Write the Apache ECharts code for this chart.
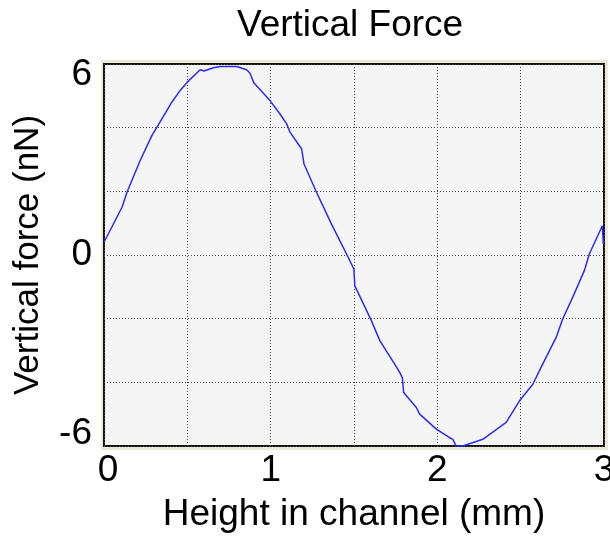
<!DOCTYPE html>
<html>
<head>
<meta charset="utf-8">
<script src="https://cdn.jsdelivr.net/npm/echarts@6/dist/echarts.min.js"></script>
<style>
  html, body { margin: 0; padding: 0; background: #fff; }
</style>
</head>
<body>
<div id="myChart" style="width:610px;height:541px;"></div>
<script>
// height in channel (mm)
var heightMm = [0.0, 0.108, 0.138, 0.217, 0.287, 0.317, 0.407, 0.457, 0.50, 0.577,
  0.60, 0.656, 0.696, 0.796, 0.856, 0.876, 0.886, 0.90, 0.996, 1.056,
  1.096, 1.116, 1.186, 1.20, 1.275, 1.365, 1.465, 1.499, 1.505, 1.605,
  1.655, 1.744, 1.774, 1.79, 1.798, 1.874, 1.894, 1.994, 2.004, 2.074,
  2.093, 2.113, 2.153, 2.273, 2.413, 2.493, 2.573, 2.632, 2.713, 2.752,
  2.812, 2.882, 2.912, 2.99, 2.996];
// vertical force (nN)
var forceNN = [0.40, 1.50, 1.97, 2.97, 3.75, 4.01, 4.80, 5.17, 5.43, 5.82,
  5.78, 5.88, 5.92, 5.92, 5.82, 5.71, 5.65, 5.40, 4.85, 4.43,
  4.12, 3.86, 3.33, 2.86, 1.97, 0.97, -0.07, -0.44, -0.97, -2.07,
  -2.69, -3.43, -3.69, -3.85, -4.32, -4.79, -5.0, -5.47, -5.50, -5.74,
  -5.79, -6.0, -6.0, -5.79, -5.26, -4.58, -4.06, -3.43, -2.59, -2.01,
  -1.33, -0.49, 0.03, 0.92, 0.35];
var yLabels = [-6, 0, 6];
var xLabels = [0, 1, 2, 3];

var pts = heightMm.map(function (x, i) { return [x, forceNN[i]]; });
var font = '"Liberation Sans", Arial, sans-serif';

var myChart = echarts.init(document.getElementById('myChart'));
myChart.setOption({
  animation: false,
  backgroundColor: '#fff',
  title: {
    text: 'Vertical Force',
    left: 232,
    top: 2,
    textStyle: { fontFamily: font, fontSize: 37, fontWeight: 'normal', color: '#000' }
  },
  graphic: [{
    // tan frame behind the plot area
    type: 'rect', z: -1,
    shape: { x: 101, y: 60, width: 507, height: 390 },
    style: { fill: '#ece9d8' }
  }],
  grid: {
    left: 104, right: 6, top: 64, bottom: 95,
    outerBoundsMode: 'none',
    containLabel: false,
    show: true,
    backgroundColor: '#f5f5f5',
    borderColor: '#111',
    borderWidth: 2
  },
  xAxis: {
    type: 'value',
    min: 0, max: 3, interval: 0.5,
    name: 'Height in channel (mm)',
    nameLocation: 'middle',
    nameGap: 50,
    nameTextStyle: { fontFamily: font, fontSize: 37, color: '#000' },
    axisLine: { show: false },
    axisTick: { show: false },
    splitLine: { show: true, lineStyle: { color: '#444', width: 1, type: [1, 2] } },
    axisLabel: {
      margin: 6,
      fontFamily: font, fontSize: 37, color: '#000',
      formatter: function (v) {
        if (xLabels.indexOf(v) < 0) return '';
        if (v === 0) return '{first|0}';
        return String(v);
      },
      rich: { first: { fontFamily: font, fontSize: 37, color: '#000', padding: [0, 0, 0, 8] } }
    }
  },
  yAxis: {
    type: 'value',
    min: -6, max: 6, interval: 2,
    name: 'Vertical force (nN)',
    nameLocation: 'middle',
    nameGap: 58,
    nameTextStyle: { fontFamily: font, fontSize: 35, color: '#000' },
    axisLine: { show: false },
    axisTick: { show: false },
    splitLine: { show: true, lineStyle: { color: '#444', width: 1, type: [1, 2] } },
    axisLabel: {
      margin: 12,
      fontFamily: font, fontSize: 37, color: '#000',
      formatter: function (v) {
        if (yLabels.indexOf(v) < 0) return '';
        if (v === 6) return '{top|6}';
        if (v === -6) return '{bot|-6}';
        return String(v);
      },
      rich: {
        top: { fontFamily: font, fontSize: 37, color: '#000', padding: [22, 0, 0, 0] },
        bot: { fontFamily: font, fontSize: 37, color: '#000', padding: [0, 0, 24, 0] }
      }
    }
  },
  series: [{
    type: 'line',
    data: pts,
    showSymbol: false,
    smooth: false,
    lineStyle: { color: '#2b2bff', width: 1.5 }
  }]
});
</script>
</body>
</html>
